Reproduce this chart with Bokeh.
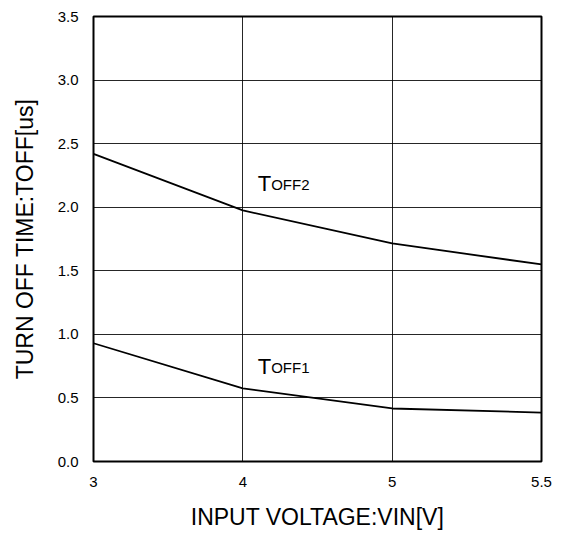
from bokeh.plotting import figure
from bokeh.models import FixedTicker, Label, Range1d
from bokeh.embed import file_html
from bokeh.resources import INLINE

# Data
vin_labels = ["3", "4", "5", "5.5"]          # x tick labels (equally spaced on the chart)
toff2 = [2.42, 1.975, 1.715, 1.55]           # TOFF2 [us]
toff1 = [0.93, 0.575, 0.417, 0.385]          # TOFF1 [us]
y_ticks = [0.0, 0.5, 1.0, 1.5, 2.0, 2.5, 3.0, 3.5]

xpos = list(range(len(vin_labels)))

FONT = "Liberation Sans"

p = figure(width=573, height=535, output_backend="svg", toolbar_location=None,
           x_range=Range1d(0, len(vin_labels) - 1), y_range=Range1d(0, 3.5),
           min_border_left=93, min_border_right=32, min_border_top=16, min_border_bottom=74)

p.background_fill_color = "white"
p.border_fill_color = "white"
p.outline_line_color = "black"
p.outline_line_width = 2

p.line(xpos, toff2, line_color="black", line_width=1.8)
p.line(xpos, toff1, line_color="black", line_width=1.8)

# axes
p.xaxis.ticker = FixedTicker(ticks=xpos)
p.xaxis.major_label_overrides = {i: s for i, s in enumerate(vin_labels)}
p.yaxis.ticker = FixedTicker(ticks=y_ticks)
p.yaxis.major_label_overrides = {v: f"{v:.1f}" for v in y_ticks}

for ax in (p.xaxis[0], p.yaxis[0]):
    ax.axis_line_color = None
    ax.major_tick_line_color = None
    ax.minor_tick_line_color = None
    ax.major_tick_out = 0
    ax.major_tick_in = 0
    ax.minor_tick_out = 0
    ax.minor_tick_in = 0
    ax.major_label_text_font = FONT
    ax.major_label_text_font_size = "15px"
    ax.major_label_text_color = "black"
    ax.axis_label_text_font = FONT
    ax.axis_label_text_font_size = "23px"
    ax.axis_label_text_font_style = "normal"
    ax.axis_label_text_color = "black"

p.xaxis.axis_label = "INPUT VOLTAGE:VIN[V]"
p.xaxis.major_label_standoff = 15
p.xaxis.axis_label_standoff = 14
p.yaxis.axis_label = "TURN OFF TIME:TOFF[us]"
p.yaxis.major_label_standoff = 15
p.yaxis.axis_label_standoff = 17

p.xgrid.ticker = FixedTicker(ticks=xpos)
p.ygrid.ticker = FixedTicker(ticks=y_ticks)
for g in (p.xgrid[0], p.ygrid[0]):
    g.grid_line_color = "black"
    g.grid_line_width = 1
    g.grid_line_alpha = 0.85

# curve labels
for xT, yT, ys, sub in [(1.10, 2.19, 2.18, "OFF2"), (1.10, 0.75, 0.737, "OFF1")]:
    p.add_layout(Label(x=xT, y=yT, text="T", text_font=FONT, text_font_size="22px",
                       text_color="black", text_baseline="alphabetic", text_align="left"))
    p.add_layout(Label(x=1.19, y=ys, text=sub, text_font=FONT, text_font_size="15px",
                       text_color="black", text_baseline="alphabetic", text_align="left"))

open("out.html", "w").write(file_html(p, INLINE))
